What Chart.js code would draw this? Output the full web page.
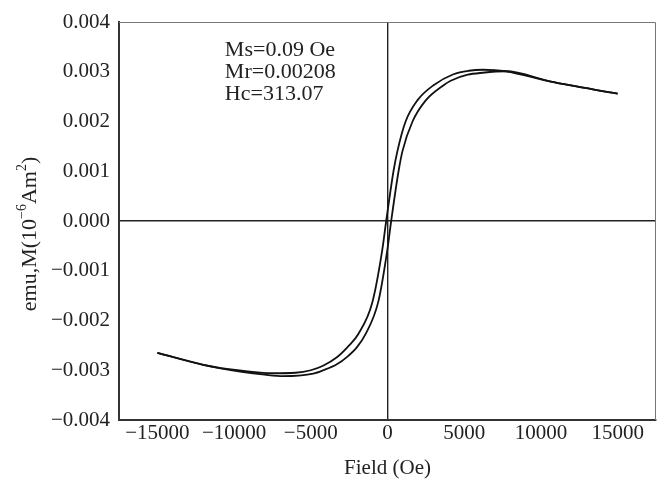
<!DOCTYPE html>
<html>
<head>
<meta charset="utf-8">
<script src="https://cdn.jsdelivr.net/npm/chart.js@4"></script>
<style>
  html, body { margin: 0; padding: 0; background: #fff; }
  #wrap { width: 670px; height: 492px; }
</style>
</head>
<body>
<div id="wrap"><canvas id="loopChart"></canvas></div>
<script>
// descending branch (coming back from +15000 Oe), listed by field
const upperField = [-15000, -12000, -9500, -7500, -6000, -5000, -4200, -3300, -2500, -1900, -1000, -350, -85, 390, 650, 1180, 1960, 3000, 4300, 5300, 6200, 7700, 10650, 15000];
const upperM = [-0.00265, -0.00289, -0.00301, -0.00306, -0.00305, -0.003, -0.00291, -0.00274, -0.0025, -0.00227, -0.00165, -0.0006, 0, 0.001, 0.00141, 0.002, 0.00243, 0.00273, 0.00295, 0.00302, 0.00304, 0.00301, 0.0028, 0.00256];

// ascending branch
const lowerField = [-15000, -12000, -9500, -8000, -6800, -5800, -4840, -4180, -3300, -2630, -2000, -1440, -590, -20, 240, 720, 980, 1630, 2480, 3660, 4120, 5230, 6200, 7700, 10650, 15000];
const lowerM = [-0.00265, -0.00289, -0.00303, -0.00309, -0.00312, -0.00311, -0.00307, -0.003, -0.00288, -0.00273, -0.00254, -0.00228, -0.00161, -0.0006, 0, 0.001, 0.00141, 0.002, 0.00242, 0.00273, 0.00282, 0.00294, 0.00298, 0.00301, 0.0028, 0.00256];

const xTicks = [-15000, -10000, -5000, 0, 5000, 10000, 15000];
const yTicks = [-0.004, -0.003, -0.002, -0.001, 0, 0.001, 0.002, 0.003, 0.004];
const notes = ["Ms=0.09 Oe", "Mr=0.00208", "Hc=313.07"];

const serif = "'Liberation Serif', 'Times New Roman', serif";
const minus = (s) => s.replace("-", "\u2212");

function toPoints(xs, ys) {
  return xs.map((x, i) => ({ x: x, y: ys[i] }));
}

// frame, axis titles and the text box
const extras = {
  id: "extras",
  afterDraw(chart) {
    const ctx = chart.ctx;
    const a = chart.chartArea;
    ctx.save();
    // light top/right frame
    ctx.strokeStyle = "#777";
    ctx.lineWidth = 1;
    ctx.beginPath();
    ctx.moveTo(a.left, a.top + 0.5);
    ctx.lineTo(a.right - 0.5, a.top + 0.5);
    ctx.lineTo(a.right - 0.5, a.bottom);
    ctx.stroke();

    ctx.fillStyle = "#222";
    ctx.textBaseline = "middle";

    // notes
    ctx.font = "22px " + serif;
    ctx.textAlign = "left";
    const xs = chart.scales.x;
    const ys = chart.scales.y;
    const nx = xs.getPixelForValue(-10600);
    notes.forEach((t, i) => {
      ctx.fillText(t, nx, ys.getPixelForValue(0.00343 - i * 0.00044));
    });

    // x title
    ctx.font = "21px " + serif;
    ctx.textAlign = "center";
    ctx.fillText("Field (Oe)", (a.left + a.right) / 2, 468);

    // y title with superscripts, rotated
    ctx.translate(30, 234);
    ctx.rotate(-Math.PI / 2);
    const parts = [
      ["emu,M(10", false],
      ["\u22126", true],
      ["Am", false],
      ["2", true],
      [")", false],
    ];
    const big = "22px " + serif;
    const small = "14px " + serif;
    let w = 0;
    parts.forEach((p) => {
      ctx.font = p[1] ? small : big;
      w += ctx.measureText(p[0]).width;
    });
    let cx = -w / 2;
    ctx.textAlign = "left";
    parts.forEach((p) => {
      ctx.font = p[1] ? small : big;
      ctx.fillText(p[0], cx, p[1] ? -8 : 0);
      cx += ctx.measureText(p[0]).width;
    });
    ctx.restore();
  },
};

const ctx = document.getElementById("loopChart").getContext("2d");
new Chart(ctx, {
  type: "line",
  data: {
    datasets: [
      {
        label: "upper",
        data: toPoints(upperField, upperM),
        borderColor: "#111",
        borderWidth: 1.8,
        pointRadius: 0,
        cubicInterpolationMode: "monotone",
        fill: false,
      },
      {
        label: "lower",
        data: toPoints(lowerField, lowerM),
        borderColor: "#111",
        borderWidth: 1.8,
        pointRadius: 0,
        cubicInterpolationMode: "monotone",
        fill: false,
      },
    ],
  },
  options: {
    responsive: true,
    maintainAspectRatio: false,
    animation: false,
    layout: { padding: { top: 22, right: 14, left: 0, bottom: 0 } },
    plugins: { legend: { display: false }, tooltip: { enabled: false } },
    scales: {
      x: {
        type: "linear",
        min: -17500,
        max: 17500,
        afterBuildTicks: (scale) => {
          scale.ticks = xTicks.map((v) => ({ value: v }));
        },
        afterFit: (scale) => {
          scale.height = 72;
        },
        ticks: {
          color: "#222",
          font: { family: serif, size: 21 },
          padding: 1,
          maxRotation: 0,
          callback: (v) => minus(String(v)),
        },
        grid: {
          drawTicks: false,
          lineWidth: 1.4,
          color: (c) => (c.tick && c.tick.value === 0 ? "#222" : "rgba(0,0,0,0)"),
        },
        border: { color: "#333", width: 2 },
      },
      y: {
        type: "linear",
        min: -0.004,
        max: 0.004,
        afterBuildTicks: (scale) => {
          scale.ticks = yTicks.map((v) => ({ value: v }));
        },
        afterFit: (scale) => {
          scale.width = 119;
        },
        ticks: {
          color: "#222",
          font: { family: serif, size: 21 },
          padding: 9,
          callback: (v) => minus(Number(v).toFixed(3)),
        },
        grid: {
          drawTicks: false,
          lineWidth: 1.4,
          color: (c) => (c.tick && Math.abs(c.tick.value) < 1e-9 ? "#222" : "rgba(0,0,0,0)"),
        },
        border: { color: "#333", width: 2 },
      },
    },
  },
  plugins: [extras],
});
</script>
</body>
</html>
